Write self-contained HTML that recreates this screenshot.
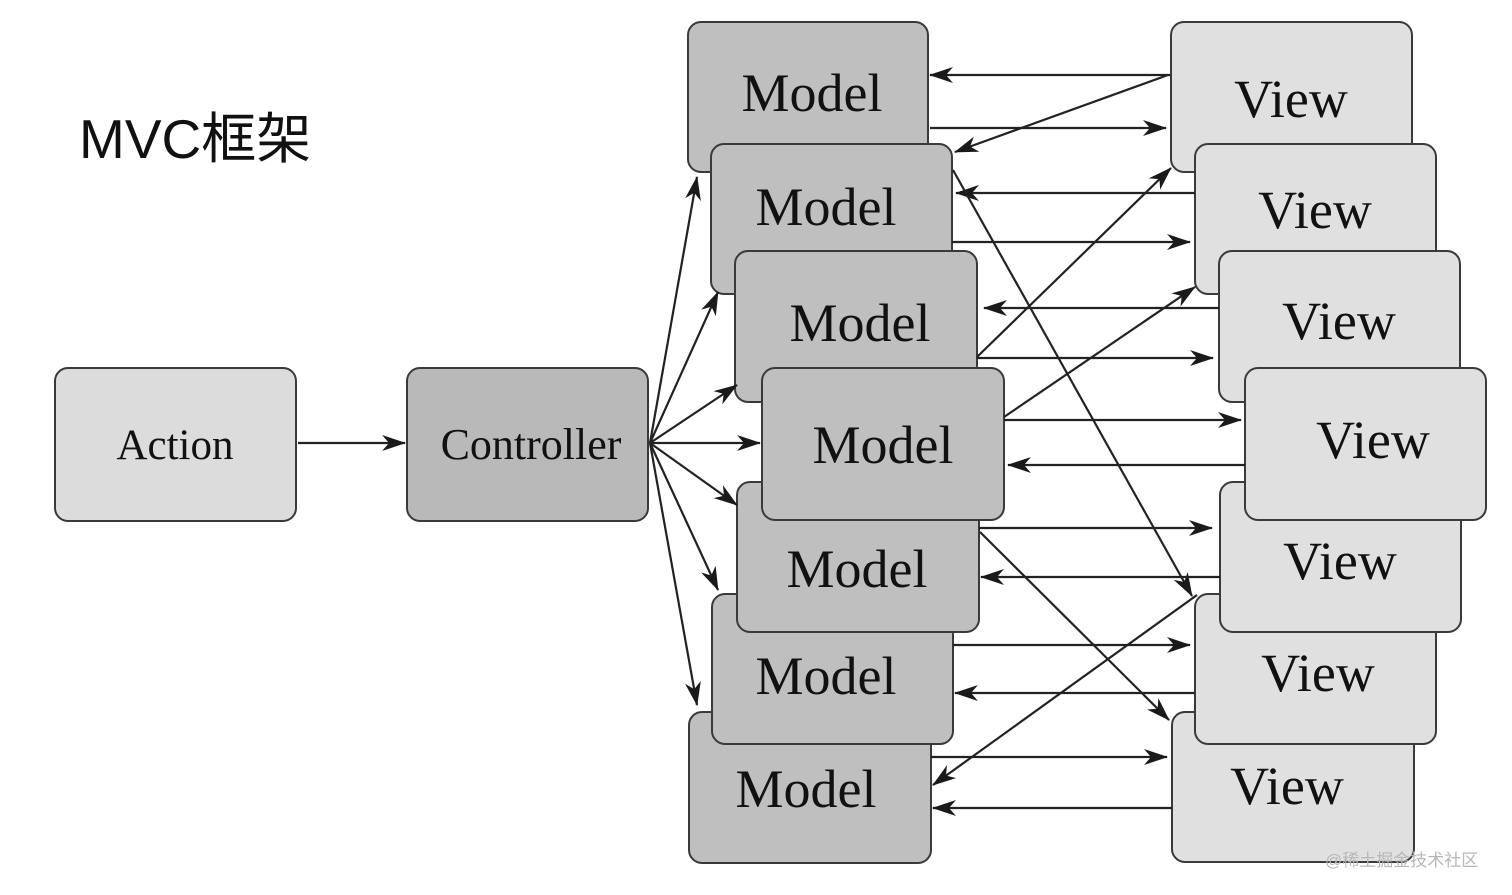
<!DOCTYPE html>
<html><head><meta charset="utf-8"><style>
html,body{margin:0;padding:0;background:#fff;}
svg{display:block;}
.m{fill:#bfbfbf;stroke:#3a3a3a;stroke-width:2;}
.v{fill:#e0e0e0;stroke:#3a3a3a;stroke-width:2;}
.t{font-family:"Liberation Serif",serif;fill:#111;}
.a{stroke:#222;stroke-width:2.2;fill:none;marker-end:url(#ah);}
</style></head><body>
<svg width="1512" height="895" viewBox="0 0 1512 895">
<defs>
<marker id="ah" viewBox="0 0 24 16" refX="23" refY="8" markerWidth="24" markerHeight="16" markerUnits="userSpaceOnUse" orient="auto">
<path d="M0,0 L24,8 L0,16 L7,8 Z" fill="#1a1a1a"/>
</marker>
</defs>
<text x="79" y="158" font-family="Liberation Sans,'Noto Sans CJK SC',sans-serif" font-size="55" fill="#111">MVC框架</text>

<rect x="55" y="368" width="241" height="153" rx="13" fill="#dcdcdc" stroke="#3a3a3a" stroke-width="2"/>
<text class="t" x="175" y="459" font-size="43" text-anchor="middle">Action</text>
<rect x="407" y="368" width="241" height="153" rx="13" fill="#b9b9b9" stroke="#3a3a3a" stroke-width="2"/>
<text class="t" x="531" y="459" font-size="44" text-anchor="middle">Controller</text>

<!-- models -->
<rect class="m" x="688" y="22" width="240" height="150" rx="13"/>
<text class="t" x="812" y="111" font-size="54" text-anchor="middle">Model</text>
<rect class="m" x="711" y="144" width="241" height="150" rx="13"/>
<text class="t" x="826" y="225" font-size="54" text-anchor="middle">Model</text>
<rect class="m" x="735" y="251" width="242" height="151" rx="13"/>
<text class="t" x="860" y="341" font-size="54" text-anchor="middle">Model</text>
<rect class="m" x="689" y="712" width="242" height="151" rx="13"/>
<text class="t" x="806" y="807" font-size="54" text-anchor="middle">Model</text>
<rect class="m" x="712" y="594" width="241" height="150" rx="13"/>
<text class="t" x="826" y="694" font-size="54" text-anchor="middle">Model</text>
<rect class="m" x="737" y="482" width="242" height="150" rx="13"/>
<text class="t" x="857" y="587" font-size="54" text-anchor="middle">Model</text>
<rect class="m" x="762" y="368" width="242" height="152" rx="13"/>
<text class="t" x="883" y="463" font-size="54" text-anchor="middle">Model</text>

<!-- views -->
<rect class="v" x="1171" y="22" width="241" height="150" rx="13"/>
<text class="t" x="1291" y="117" font-size="54" text-anchor="middle">View</text>
<rect class="v" x="1195" y="144" width="241" height="150" rx="13"/>
<text class="t" x="1315" y="228" font-size="54" text-anchor="middle">View</text>
<rect class="v" x="1219" y="251" width="241" height="151" rx="13"/>
<text class="t" x="1339" y="339" font-size="54" text-anchor="middle">View</text>
<rect class="v" x="1172" y="712" width="242" height="150" rx="13"/>
<text class="t" x="1287" y="804" font-size="54" text-anchor="middle">View</text>
<rect class="v" x="1195" y="594" width="241" height="150" rx="13"/>
<text class="t" x="1318" y="691" font-size="54" text-anchor="middle">View</text>
<rect class="v" x="1220" y="482" width="241" height="150" rx="13"/>
<text class="t" x="1340" y="579" font-size="54" text-anchor="middle">View</text>
<rect class="v" x="1245" y="368" width="241" height="152" rx="13"/>
<text class="t" x="1373" y="458" font-size="54" text-anchor="middle">View</text>

<!-- arrows -->
<line class="a" x1="298" y1="443" x2="405" y2="443"/>
<line class="a" x1="650" y1="443" x2="697" y2="177"/>
<line class="a" x1="650" y1="443" x2="718" y2="292"/>
<line class="a" x1="650" y1="443" x2="737" y2="385"/>
<line class="a" x1="650" y1="443" x2="760" y2="443"/>
<line class="a" x1="650" y1="443" x2="737" y2="505"/>
<line class="a" x1="650" y1="443" x2="718" y2="590"/>
<line class="a" x1="650" y1="443" x2="697" y2="705"/>

<line class="a" x1="1170" y1="75" x2="930" y2="75"/>
<line class="a" x1="930" y1="128" x2="1166" y2="128"/>
<line class="a" x1="1168" y1="75" x2="955" y2="152"/>
<line class="a" x1="1195" y1="193" x2="956" y2="193"/>
<line class="a" x1="952" y1="242" x2="1190" y2="242"/>
<line class="a" x1="953" y1="170" x2="1192" y2="596"/>
<line class="a" x1="1219" y1="308" x2="984" y2="308"/>
<line class="a" x1="977" y1="358" x2="1213" y2="358"/>
<line class="a" x1="977" y1="357" x2="1171" y2="168"/>
<line class="a" x1="1004" y1="417" x2="1195" y2="287"/>
<line class="a" x1="1004" y1="420" x2="1241" y2="420"/>
<line class="a" x1="1245" y1="465" x2="1008" y2="465"/>
<line class="a" x1="979" y1="528" x2="1212" y2="528"/>
<line class="a" x1="1220" y1="577" x2="981" y2="577"/>
<line class="a" x1="980" y1="532" x2="1169" y2="720"/>
<line class="a" x1="953" y1="645" x2="1190" y2="645"/>
<line class="a" x1="1195" y1="693" x2="955" y2="693"/>
<line class="a" x1="1197" y1="595" x2="933" y2="785"/>
<line class="a" x1="931" y1="757" x2="1167" y2="757"/>
<line class="a" x1="1172" y1="808" x2="933" y2="808"/>

<text x="1325" y="866" font-family="Liberation Sans,'Noto Sans CJK SC',sans-serif" font-size="17" fill="#b8b8b8">@稀土掘金技术社区</text>
</svg>
</body></html>
